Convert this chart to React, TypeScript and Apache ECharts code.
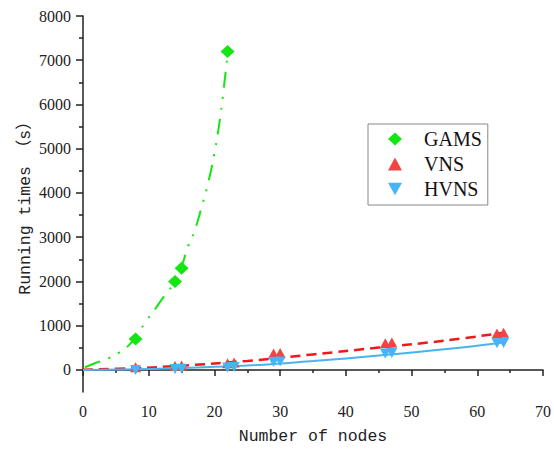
import React, { useEffect, useRef } from 'react';
import * as echarts from 'echarts';

// Measured points
const gamsX = [8, 14, 15, 22];
const gamsY = [700, 2000, 2300, 7200];
const vnsX = [8, 14, 15, 22, 23, 29, 30, 46, 47, 63, 64];
const vnsY = [60, 90, 100, 150, 165, 370, 380, 600, 620, 820, 840];
const hvnsX = [8, 14, 15, 22, 23, 29, 30, 46, 47, 63, 64];
const hvnsY = [0, 20, 25, 55, 65, 180, 190, 370, 380, 600, 610];

// Fitted curves
const gamsFitX = [0.3, 2, 4, 5.5, 7, 8, 9.5, 11, 12.5, 14, 15, 16, 17, 18, 19, 20, 21, 22];
const gamsFitY = [60, 160, 270, 390, 560, 740, 1080, 1380, 1700, 1990, 2330, 2800, 3150, 3650, 4200, 4900, 5850, 7150];
const vnsFitX = [0, 8, 15, 25, 35, 45, 55, 64];
const vnsFitY = [5, 40, 95, 203, 350, 505, 660, 840];
const hvnsFitX = [0, 10, 25, 35, 45, 55, 64];
const hvnsFitY = [0, 20, 98, 200, 324, 465, 620];

const yMajorTicks = [0, 1000, 2000, 3000, 4000, 5000, 6000, 7000, 8000];
const yMinorTicks = [500, 1500, 2500, 3500, 4500, 5500, 6500, 7500];

const seriesNames = ['GAMS', 'VNS', 'HVNS'];

const zip = (xs: number[], ys: number[]) => xs.map((x, i) => [x, ys[i]]);

const GREEN = '#14e614';
const RED_M = '#f24444';
const RED_L = '#ee1a1a';
const BLUE_M = '#45b6f5';
const BLUE_L = '#48b4ee';

const serif = "'Liberation Serif', serif";
const mono = "'Liberation Mono', 'Noto Sans CJK SC', monospace";

export default function App() {
  const ref = useRef<HTMLDivElement>(null);
  useEffect(() => {
    if (!ref.current) return;
    const chart = echarts.init(ref.current, null, { renderer: 'svg' });
    const axisLine = { show: true, lineStyle: { color: '#222', width: 1.5 } };
    chart.setOption({
      animation: false,
      backgroundColor: '#fff',
      textStyle: { fontFamily: serif },
      grid: { left: 83, right: 4, top: 16, bottom: 58, containLabel: false },
      legend: {
        orient: 'vertical',
        left: 368,
        top: 124,
        data: [
          { name: seriesNames[0] },
          { name: seriesNames[1] },
          { name: seriesNames[2] },
        ],
        itemWidth: 14,
        itemHeight: 13,
        itemGap: 5,
        padding: [5, 6, 6, 20],
        borderColor: '#888',
        borderWidth: 1,
        textStyle: { fontFamily: serif, fontSize: 20, color: '#111', lineHeight: 20, padding: [0, 0, 0, 17] },
      },
      xAxis: {
        type: 'value',
        min: 0,
        max: 70,
        interval: 10,
        name: 'Number of nodes',
        nameLocation: 'middle',
        nameGap: 36,
        nameMoveOverlap: false,
        nameTextStyle: { fontFamily: mono, fontSize: 16.5, color: '#222' },
        axisLine,
        axisTick: { show: true, inside: false, length: 6, lineStyle: { color: '#222', width: 1.5 } },
        minorTick: { show: true, splitNumber: 2, length: 3, lineStyle: { color: '#222', width: 1.5 } },
        splitLine: { show: false },
        axisLabel: {
          fontFamily: serif,
          fontSize: 16,
          color: '#222',
          margin: 11,
          showMaxLabel: true,
          formatter: (v: number) => String(v),
        },
      },
      yAxis: [
        {
          type: 'value',
          min: -500,
          max: 8000,
          name: 'Running times （s）',
          nameLocation: 'middle',
          nameGap: 49,
          nameMoveOverlap: false,
          nameTextStyle: { fontFamily: mono, fontSize: 16.5, color: '#222' },
          axisLine,
          axisTick: { show: true, length: 7, customValues: yMajorTicks, lineStyle: { color: '#222', width: 1.5 } },
          splitLine: { show: false },
          axisLabel: {
            fontFamily: serif,
            fontSize: 16,
            color: '#222',
            margin: 12,
            customValues: yMajorTicks,
            formatter: (v: number) => String(v),
          },
        },
        {
          type: 'value',
          min: -500,
          max: 8000,
          position: 'left',
          axisLine: { show: false },
          axisTick: { show: true, length: 4, customValues: yMinorTicks, lineStyle: { color: '#222', width: 1.5 } },
          axisLabel: { show: false },
          splitLine: { show: false },
        },
      ],
      series: [
        {
          name: 'GAMS fit',
          type: 'line',
          data: zip(gamsFitX, gamsFitY),
          smooth: 0.4,
          symbol: 'none',
          lineStyle: { color: GREEN, width: 2, type: [16, 9, 2, 9, 2, 9] },
          z: 2,
        },
        {
          name: 'VNS fit',
          type: 'line',
          data: zip(vnsFitX, vnsFitY),
          smooth: 0.4,
          symbol: 'none',
          lineStyle: { color: RED_L, width: 2.5, type: [10, 6] },
          z: 2,
        },
        {
          name: 'HVNS fit',
          type: 'line',
          data: zip(hvnsFitX, hvnsFitY),
          smooth: 0.4,
          symbol: 'none',
          lineStyle: { color: BLUE_L, width: 2, type: 'solid' },
          z: 2,
        },
        {
          name: seriesNames[0],
          type: 'scatter',
          data: zip(gamsX, gamsY),
          symbol: 'diamond',
          symbolSize: [14, 13],
          itemStyle: { color: GREEN, opacity: 1 },
          z: 3,
        },
        {
          name: seriesNames[1],
          type: 'scatter',
          data: zip(vnsX, vnsY),
          symbol: 'triangle',
          symbolSize: [11, 10],
          itemStyle: { color: RED_M, opacity: 1 },
          z: 3,
        },
        {
          name: seriesNames[2],
          type: 'scatter',
          data: zip(hvnsX, hvnsY),
          symbol: 'path://M0,0 L10,0 L5,9 Z',
          symbolSize: [11, 10],
          itemStyle: { color: BLUE_M, opacity: 1 },
          z: 4,
        },
      ],
    });
    return () => chart.dispose();
  }, []);
  return (
    <div
      ref={ref}
      style={{ position: 'fixed', left: 0, top: 0, width: 554, height: 450, background: '#fff' }}
    />
  );
}
